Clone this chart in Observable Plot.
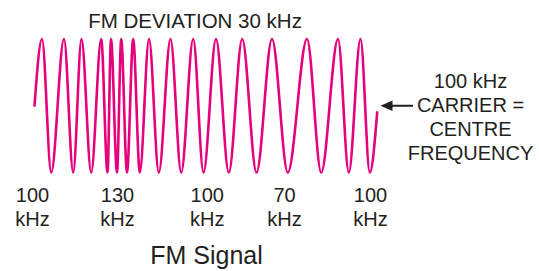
<!DOCTYPE html>
<html><head><meta charset="utf-8">
<script src="https://cdn.jsdelivr.net/npm/d3@7"></script>
<script src="https://cdn.jsdelivr.net/npm/@observablehq/plot@0.6"></script>
<style>html,body{margin:0;padding:0;background:#fff}</style>
</head><body><div id="chart"></div>
<script>
// Wave extrema: time (arbitrary units) and level (-1 trough, +1 peak)
const waveTimes  = [0, 7.5, 16.7, 29.5, 38.7, 47, 56.7, 66.7, 73, 76.5, 82.5, 86.7, 92.5, 98.7, 105.3, 114.5, 124.3, 136, 146.7, 158.7, 169, 181.5, 194.3, 207.7, 222, 237.5, 253.3, 272.5, 286.7, 303.5, 314.3, 326, 335.3, 342.7];
const waveLevels = [0, 1, -1, 1, -1, 1, -1, 1, -1, 1, -1, 1, -1, 1, -1, 1, -1, 1, -1, 1, -1, 1, -1, 1, -1, 1, -1, 1, -1, 1, -1, 1, -1, -0.1];

// Instantaneous frequency labels along the time axis
const freqValues = ["100", "130", "100", "70", "100"];
const freqUnit = "kHz";
const freqTimes = [-2, 83, 172.7, 250, 336];

const titleText = "FM DEVIATION 30 kHz";
const captionText = "FM Signal";
const noteLines = ["100 kHz", "CARRIER =", "CENTRE", "FREQUENCY"];
const arrowShaft = [358, 379];   // time units, at carrier level 0
const arrowTip = [352];

const wave = waveTimes.map((t, i) => ({t, v: waveLevels[i]}));
const freq = freqValues.map((f, i) => ({t: freqTimes[i], label: f + "\n" + freqUnit}));

const ink = "#231f20";
const font = "'Liberation Sans', Arial, Helvetica, sans-serif";

const leftTriangle = {
  draw(ctx) { ctx.moveTo(-6, 0); ctx.lineTo(6, -5.2); ctx.lineTo(6, 5.2); ctx.closePath(); }
};

const chart = Plot.plot({
  width: 539, height: 271,
  marginTop: 0, marginRight: 0, marginBottom: 0, marginLeft: 0,
  x: {domain: [0, 343], range: [34, 377], axis: null},
  y: {domain: [-1, 1], range: [172, 38.5], axis: null},
  style: {background: "white", fontFamily: font, color: ink},
  marks: [
    Plot.line(wave, {x: "t", y: "v", curve: "monotone-x", stroke: "#e5007e", strokeWidth: 2.6}),
    Plot.text(freq, {x: "t", text: "label", frameAnchor: "top", dy: 184.8, lineAnchor: "top", lineHeight: 1.2, fontSize: 20, fill: ink}),
    Plot.text([titleText], {text: d => d, frameAnchor: "top-left", dx: 194.5, dy: 12.8, textAnchor: "middle", lineAnchor: "top", fontSize: 20.5, fill: ink}),
    Plot.text([captionText], {text: d => d, frameAnchor: "top-left", dx: 206, dy: 245.5, textAnchor: "middle", lineAnchor: "top", fontSize: 25, fill: ink}),
    Plot.text([noteLines.join("\n")], {text: d => d, frameAnchor: "top-left", dx: 470, dy: 70, textAnchor: "middle", lineAnchor: "top", lineHeight: 1.2, fontSize: 20, fill: ink}),
    Plot.ruleY([0], {x1: arrowShaft[0], x2: arrowShaft[1], stroke: ink, strokeWidth: 2}),
    Plot.dot(arrowTip, {x: d => d, y: 0, symbol: leftTriangle, fill: ink, stroke: null, r: 6})
  ]
});
document.getElementById("chart").appendChild(chart);
</script>
</body></html>
